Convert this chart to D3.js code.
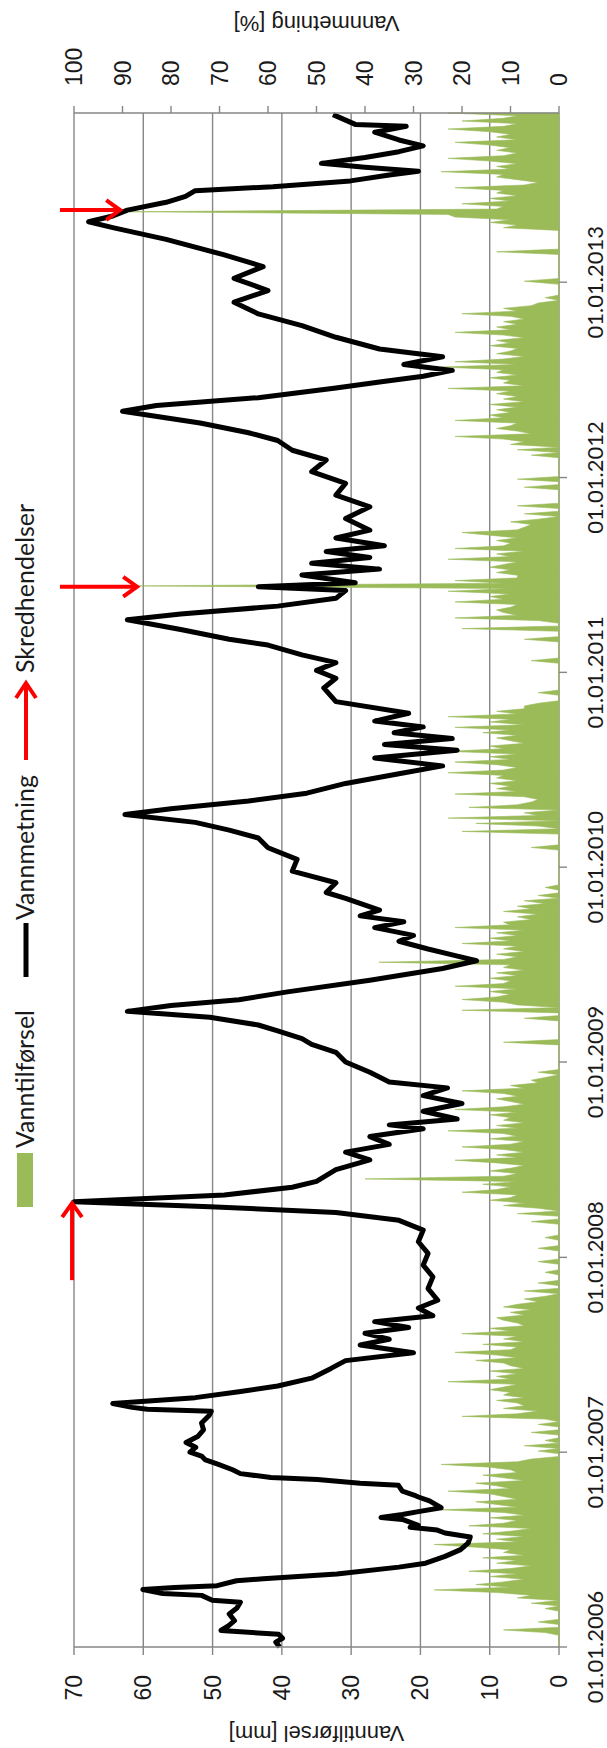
<!DOCTYPE html>
<html>
<head>
<meta charset="utf-8">
<script src="https://cdn.jsdelivr.net/npm/d3@7"></script>
<style>
  body { margin: 0; background: #fff; }
  svg { display: block; }
</style>
</head>
<body>
<div id="chart"></div>
<script>
// Vannmetning [%] (black line): time as decimal year, value in percent
var satYear = [2006.00,2006.025,2006.045,2006.065,2006.085,2006.11,2006.135,2006.17,2006.20,2006.23,2006.24,2006.265,2006.275,2006.295,2006.305,2006.315,2006.34,2006.35,2006.375,2006.41,2006.43,2006.465,2006.50,2006.535,2006.565,2006.585,2006.60,2006.615,2006.625,2006.655,2006.665,2006.68,2006.695,2006.715,2006.75,2006.77,2006.78,2006.80,2006.83,2006.84,2006.86,2006.87,2006.89,2006.91,2006.94,2006.96,2006.98,
  2007.00,2007.025,2007.05,2007.08,2007.115,2007.15,2007.19,2007.21,2007.22,2007.23,2007.25,2007.28,2007.31,2007.34,2007.38,2007.43,2007.47,2007.51,2007.55,2007.58,2007.61,2007.64,2007.67,2007.70,2007.74,2007.78,2007.84,2007.90,2007.96,
  2008.02,2008.08,2008.14,2008.19,2008.23,2008.26,2008.285,2008.32,2008.36,2008.39,2008.45,2008.50,2008.54,2008.58,2008.62,2008.66,2008.68,2008.71,2008.75,2008.79,2008.83,2008.87,2008.90,2008.95,
  2009.00,2009.05,2009.09,2009.12,2009.16,2009.19,2009.23,2009.26,2009.29,2009.32,2009.36,2009.42,2009.48,2009.52,2009.55,2009.58,2009.62,2009.65,2009.69,2009.72,2009.75,2009.78,2009.84,2009.87,2009.92,2009.98,
  2010.04,2010.10,2010.15,2010.19,2010.23,2010.27,2010.30,2010.34,2010.38,2010.43,2010.48,2010.52,2010.56,2010.60,2010.63,2010.66,2010.69,2010.72,2010.75,2010.79,2010.85,2010.92,2010.97,
  2011.01,2011.05,2011.09,2011.14,2011.17,2011.22,2011.27,2011.30,2011.34,2011.38,2011.42,2011.44,2011.46,2011.50,2011.53,2011.56,2011.59,2011.62,2011.65,2011.69,2011.73,2011.79,2011.85,2011.91,2011.97,
  2012.03,2012.09,2012.14,2012.19,2012.23,2012.28,2012.34,2012.37,2012.41,2012.46,2012.49,2012.52,2012.55,2012.58,2012.62,2012.66,2012.72,2012.78,2012.84,2012.90,2012.96,
  2013.02,2013.08,2013.14,2013.22,2013.28,2013.31,2013.34,2013.37,2013.41,2013.44,2013.47,2013.49,2013.52,2013.55,2013.57,2013.59,2013.61,2013.64,2013.67,2013.70,2013.73,2013.77,2013.80,2013.81,2013.86];
var satPct = [57.6,58.4,57,57.8,69.7,68.1,66.9,68,66.4,65.7,71.5,73.7,81.7,85.8,79.3,70.5,66.5,61,45.8,33,27.5,23.5,20.3,18.7,18.3,23.5,25.1,30.7,29,32.3,36.7,32.3,29,24.3,26.7,29,29.9,32.3,33.1,41,49.8,59.4,65.7,67.3,70.5,72.9,73.7,
  76.1,74.9,76.9,74.5,73.3,73.7,72.1,71.7,84.9,88,92,75,66,58,51,47,44,30,41,35,40,31,38,26,29,25,27,26,28,
  27,29,28,33,46,72,100,69,55,50,46,39,44,35,39,28,35,21,28,20,28,23,35,39,
  44,46,51,53,58,62,72,89,80,66,56,39,24,17,22,27,33,30,38,32,41,37,44,48,46,55,
  54,60,62,68,75,89.5,80,64,52,44,33,24,38,21,36,22,34,28,38,31,46,48.5,46,
  50,46,53,60,68,78,89,78,58,46,44,62,42,53,37,51,39,48,36,46,39,44,39,46,44,
  51,48,55,58,64,74,90,83,62,46,37,28,22,32,24,37,46,53,62,67,60,
  67,61,69,81,92,97,92,89,81,77,75,59,43,35,29,40,49,40,33,28,33,38,31.5,42,46.6];

// Vanntilførsel [mm] (green area), one value per 5 days from 1 January each year
var inflowStep = 5;
var inflow2006 = [0,0,0,0,0,2, 8,0,0,3,0,0, 0,0,2,0,4,0, 6,4,9,18,7,12, 8,5,10,6,13,7, 4,9,6,11,5,8, 7,12,18,6,9,5, 11,7,4,13,8,6, 10,5,8,17,6,9, 12,6,8,10,16,7, 9,12,5,8,11,6, 7,10,17,6,4,0,0];
var inflow2007 = [3,0,5,0,2,0, 0,4,0,0,3,0, 2,14,6,3,8,5, 6,9,5,8,7,10, 8,6,16,7,9,6, 10,5,7,8,12,6, 9,15,7,6,11,5, 8,6,14,7,10,5, 6,8,9,5,7,4, 8,6,3,5,2,0, 5,0,0,3,0,0, 0,2,0,0,0,3,0];
var inflow2008 = [0,0,0,3,0,0, 0,2,0,0,0,0, 0,4,0,0,6,0, 3,8,5,10,7,6, 14,9,7,11,6,28, 8,6,10,7,5,9, 15,6,9,5,8,14, 7,5,10,6,8,16, 6,9,5,8,7,10, 6,15,8,5,7,9, 6,8,14,5,7,3, 4,2,0,3,0,0,0];
var inflow2009 = [0,0,0,0,0,0, 0,8,0,0,0,0, 0,0,0,0,5,0, 0,14,0,6,8,14, 9,7,10,6,15,8, 7,10,6,9,5,8, 7,26,8,6,9,5, 8,6,14,7,10,6, 9,5,15,7,8,4, 6,3,8,4,6,2, 5,0,3,0,0,2, 0,0,0,0,0,0,0];
var inflow2010 = [0,0,0,0,0,0, 0,4,0,0,0,0, 0,14,0,3,12,0, 16,3,5,0,13,6, 4,3,5,15,6,9, 7,10,6,9,8,16, 8,6,9,15,7,10, 6,16,8,10,5,7, 9,6,11,7,15,5, 10,7,16,6,9,5, 5,3,0,0,0,3, 0,0,0,0,0,0,0];
var inflow2011 = [0,0,0,0,4,0, 0,0,0,0,0,0, 5,0,0,0,14,0, 0,3,15,6,8,9, 7,6,15,8,10,7, 16,7,61,8,15,6, 6,9,7,10,8,6, 16,7,9,5,15,8, 7,9,6,10,14,6, 5,4,7,3,0,5, 0,0,6,0,0,0, 0,0,0,5,0,0,6];
var inflow2012 = [0,0,0,0,0,0, 0,0,4,0,6,0, 7,5,8,15,4,6, 9,7,6,15,8,10, 7,9,6,10,5,8, 6,9,7,16,5,8, 7,10,6,9,8,17, 6,15,8,5,9,7, 6,10,7,9,5,8, 15,7,9,6,8,5, 7,14,6,8,4,3, 0,2,0,0,0,0,0];
var inflow2013 = [5,0,0,0,0,0, 0,0,0,0,0,9, 0,0,0,0,0,0, 0,0,8,6,10,7, 15,16,62,9,8,14, 7,10,6,9,8,15, 5,3,6,9,8,17, 7,9,6,10,16,8, 6,9,7,10,15,6, 9,7,10,16,8,6, 14,8,6,16];
var inflowYears = [2006,2007,2008,2009,2010,2011,2012,2013];
var inflowByYear = [inflow2006,inflow2007,inflow2008,inflow2009,inflow2010,inflow2011,inflow2012,inflow2013];

// Skredhendelser (red arrows): tip and tail as decimal year and percent
var slideTipYear  = [2008.278, 2011.44, 2013.37];
var slideTailYear = [2007.883, 2011.44, 2013.37];
var slideTipPct   = [100.4, 87, 90.5];
var slideTailPct  = [100.4, 102.9, 102.9];

var yearTicks = [2006,2007,2008,2009,2010,2011,2012,2013];
var mmTicks = [0,10,20,30,40,50,60,70];
var pctTicks = [0,10,20,30,40,50,60,70,80,90,100];

var W = 1748, H = 607;
var dayMs = 24 * 3600 * 1000;
function toDate(dy) {
    var yr = Math.floor(dy);
    return new Date(+new Date(yr, 0, 1) + (dy - yr) * 365 * dayMs);
}

var svg = d3.select('#chart').append('svg')
    .attr('width', H)
    .attr('height', W);

// the whole chart is drawn landscape and turned a quarter turn
var g = svg.append('g').attr('transform', 'translate(0,' + W + ') rotate(-90)');

var x = d3.scaleTime()
    .domain([new Date(2006, 0, 1), new Date(2013, 10, 14)])
    .range([101, 1635]);
var yMm = d3.scaleLinear().domain([0, 70]).range([559, 74]);
var yPct = d3.scaleLinear().domain([0, 100]).range([559, 74]);

var grey = '#868686';
var numFont = '"Liberation Sans", Arial, sans-serif';
var txtFont = 'Lato, "Liberation Sans", sans-serif';

// gridlines
g.append('g').selectAll('line').data(mmTicks).enter().append('line')
    .attr('x1', x.range()[0]).attr('x2', x.range()[1])
    .attr('y1', function(d){ return yMm(d); })
    .attr('y2', function(d){ return yMm(d); })
    .style('stroke', grey).style('stroke-width', 1.4);

// green inflow area
var inflow = [];
inflowYears.forEach(function(yr, k){
    inflowByYear[k].forEach(function(v, i){
        inflow.push([d3.timeDay.offset(new Date(yr, 0, 1), i * inflowStep + 2), v]);
    });
});
var area = d3.area()
    .x(function(d){ return x(d[0]); })
    .y0(yMm(0))
    .y1(function(d){ return yMm(d[1]); });
g.append('path')
    .attr('d', area(inflow))
    .style('fill', '#9BBB59')
    .style('stroke', '#9BBB59')
    .style('stroke-width', 0.6);

// black saturation line
var line = d3.line()
    .x(function(d){ return x(toDate(d)); })
    .y(function(d, i){ return yPct(satPct[i]); });
g.append('path')
    .attr('d', line(satYear))
    .style('fill', 'none')
    .style('stroke', '#000')
    .style('stroke-width', 5)
    .style('stroke-linejoin', 'round');

// axes
var axisG = g.append('g').style('stroke', grey).style('stroke-width', 1.4);
axisG.append('line').attr('x1', 101).attr('x2', 101).attr('y1', yMm(70)).attr('y2', yMm(0));
axisG.append('line').attr('x1', 1635).attr('x2', 1635).attr('y1', yMm(70)).attr('y2', yMm(0));
axisG.selectAll('.tl').data(mmTicks).enter().append('line')
    .attr('x1', 93).attr('x2', 101)
    .attr('y1', function(d){ return yMm(d); }).attr('y2', function(d){ return yMm(d); });
axisG.selectAll('.tr').data(pctTicks).enter().append('line')
    .attr('x1', 1635).attr('x2', 1642)
    .attr('y1', function(d){ return yPct(d); }).attr('y2', function(d){ return yPct(d); });
axisG.selectAll('.tb').data(yearTicks).enter().append('line')
    .attr('x1', function(d){ return x(new Date(d, 0, 1)); })
    .attr('x2', function(d){ return x(new Date(d, 0, 1)); })
    .attr('y1', yMm(0)).attr('y2', yMm(0) + 8);

g.append('g').selectAll('text').data(mmTicks).enter().append('text')
    .attr('x', 73).attr('y', function(d){ return yMm(d); })
    .attr('dy', '0.35em').attr('text-anchor', 'end')
    .style('font-family', numFont).style('font-size', '23px').style('fill', '#1a1a1a')
    .text(function(d){ return d; });

g.append('g').selectAll('text').data(pctTicks).enter().append('text')
    .attr('x', 1662).attr('y', function(d){ return yPct(d); })
    .attr('dy', '0.35em').attr('text-anchor', 'start')
    .style('font-family', numFont).style('font-size', '23px').style('fill', '#1a1a1a')
    .text(function(d){ return d; });

g.append('g').selectAll('text').data(yearTicks).enter().append('text')
    .attr('x', function(d){ return x(new Date(d, 0, 1)); })
    .attr('y', 595).attr('dy', '0.35em').attr('text-anchor', 'middle')
    .style('font-family', txtFont).style('font-size', '22px').style('fill', '#1a1a1a')
    .text(function(d){ return '01.01.' + d; });

// axis titles
g.append('text')
    .attr('transform', 'translate(14,' + ((yMm(0) + yMm(70)) / 2) + ') rotate(-90)')
    .attr('dy', '0.35em').attr('text-anchor', 'middle')
    .style('font-family', numFont).style('font-size', '22px').style('fill', '#1a1a1a')
    .text('Vanntilførsel [mm]');
g.append('text')
    .attr('transform', 'translate(1724,' + ((yMm(0) + yMm(70)) / 2) + ') rotate(-90)')
    .attr('dy', '0.35em').attr('text-anchor', 'middle')
    .style('font-family', numFont).style('font-size', '22px').style('fill', '#1a1a1a')
    .text('Vannmetning [%]');

// red arrows for the slide events
var red = '#FF0000';
var arrows = g.append('g').style('stroke', red).style('stroke-width', 4).style('fill', 'none');
slideTipYear.forEach(function(d, i){
    var tip = [x(toDate(d)), yPct(slideTipPct[i])];
    var tail = [x(toDate(slideTailYear[i])), yPct(slideTailPct[i])];
    var ang = Math.atan2(tip[1] - tail[1], tip[0] - tail[0]);
    var hl = 17, ha = 0.62;
    arrows.append('line').attr('x1', tail[0]).attr('y1', tail[1]).attr('x2', tip[0]).attr('y2', tip[1]);
    arrows.append('path')
        .attr('d', 'M' + (tip[0] - hl * Math.cos(ang - ha)) + ',' + (tip[1] - hl * Math.sin(ang - ha)) +
                   'L' + tip[0] + ',' + tip[1] +
                   'L' + (tip[0] - hl * Math.cos(ang + ha)) + ',' + (tip[1] - hl * Math.sin(ang + ha)));
});

// legend
var leg = g.append('g');
leg.append('rect').attr('x', 541).attr('y', 17).attr('width', 54).attr('height', 16).style('fill', '#9BBB59');
leg.append('text').attr('x', 600).attr('y', 25).attr('dy', '0.35em')
    .style('font-family', txtFont).style('font-size', '25px').style('fill', '#1a1a1a').text('Vanntilførsel');
leg.append('line').attr('x1', 771).attr('x2', 825).attr('y1', 26).attr('y2', 26)
    .style('stroke', '#000').style('stroke-width', 5);
leg.append('text').attr('x', 828).attr('y', 25).attr('dy', '0.35em')
    .style('font-family', txtFont).style('font-size', '25px').style('fill', '#1a1a1a').text('Vannmetning');
leg.append('line').attr('x1', 988).attr('x2', 1064).attr('y1', 26).attr('y2', 26)
    .style('stroke', red).style('stroke-width', 4);
leg.append('path').attr('d', 'M1050,16L1065,26L1050,36')
    .style('stroke', red).style('stroke-width', 4).style('fill', 'none');
leg.append('text').attr('x', 1075).attr('y', 25).attr('dy', '0.35em')
    .style('font-family', txtFont).style('font-size', '25px').style('fill', '#1a1a1a').text('Skredhendelser');
</script>
</body>
</html>
